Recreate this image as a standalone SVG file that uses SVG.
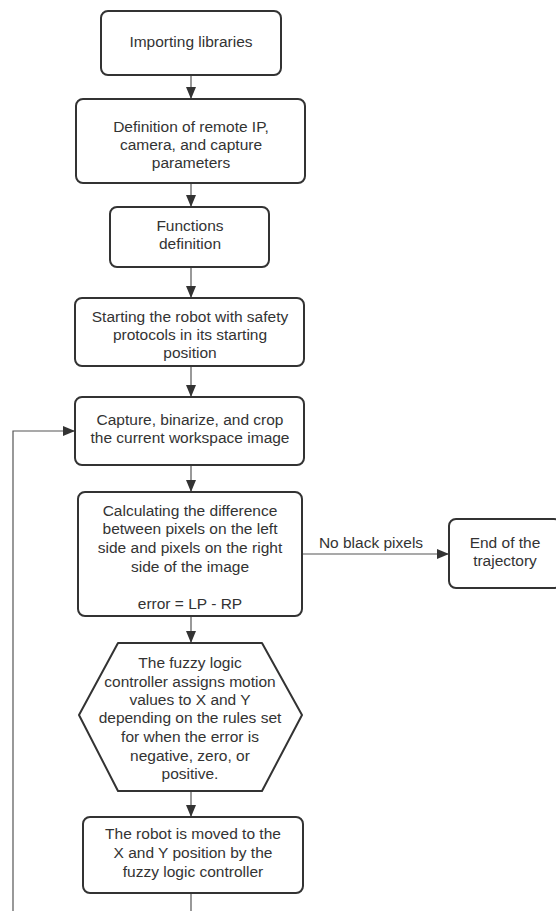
<svg xmlns="http://www.w3.org/2000/svg" width="556" height="911" viewBox="0 0 556 911">
<defs>
<marker id="arr" markerUnits="userSpaceOnUse" markerWidth="12" markerHeight="10" refX="12" refY="5" orient="auto">
<path d="M0,0 L12,5 L0,10 z" fill="#333"/>
</marker>
<style>
.n{fill:#fff;stroke:#333;stroke-width:2;stroke-linejoin:round}
.t{font-family:"Liberation Sans",Arial,sans-serif;font-size:15.5px;fill:#333;text-anchor:middle}
.c{fill:none;stroke:#555;stroke-width:1.2}
</style>
</defs>
<rect width="556" height="911" fill="#fff"/>
<g id="connectors">
<path class="c" d="M191,75 V99" marker-end="url(#arr)"/>
<path class="c" d="M191,183 V207" marker-end="url(#arr)"/>
<path class="c" d="M191,267 V298" marker-end="url(#arr)"/>
<path class="c" d="M191,366 V397" marker-end="url(#arr)"/>
<path class="c" d="M191,465 V492" marker-end="url(#arr)"/>
<path class="c" d="M302,554 H449" marker-end="url(#arr)"/>
<path class="c" d="M191,616 V643" marker-end="url(#arr)"/>
<path class="c" d="M191,791 V817" marker-end="url(#arr)"/>
<path class="c" d="M191,893 V916 H13 V431 H75" marker-end="url(#arr)"/>
<text class="t" x="371" y="548">No black pixels</text>
</g>
<g id="n1">
<rect class="n" x="101" y="11" width="180" height="64" rx="7"/>
<text class="t" x="191" y="47">Importing libraries</text>
</g>
<g id="n2">
<rect class="n" x="76" y="99" width="229" height="84" rx="7"/>
<text class="t" x="191" y="132">Definition of remote IP,</text>
<text class="t" x="191" y="150">camera, and capture</text>
<text class="t" x="191" y="168">parameters</text>
</g>
<g id="n3">
<rect class="n" x="110" y="207" width="159" height="60" rx="7"/>
<text class="t" x="190" y="231">Functions</text>
<text class="t" x="190" y="249">definition</text>
</g>
<g id="n4">
<rect class="n" x="75" y="298" width="229" height="68" rx="7"/>
<text class="t" x="190" y="322">Starting the robot with safety</text>
<text class="t" x="190" y="340">protocols in its starting</text>
<text class="t" x="190" y="358">position</text>
</g>
<g id="n5">
<rect class="n" x="75" y="397" width="229" height="68" rx="7"/>
<text class="t" x="190" y="425">Capture, binarize, and crop</text>
<text class="t" x="190" y="443">the current workspace image</text>
</g>
<g id="n6">
<rect class="n" x="78" y="492" width="224" height="124" rx="7"/>
<text class="t" x="190" y="516">Calculating the difference</text>
<text class="t" x="190" y="534">between pixels on the left</text>
<text class="t" x="190" y="553">side and pixels on the right</text>
<text class="t" x="190" y="572">side of the image</text>
<text class="t" x="190" y="609">error = LP - RP</text>
</g>
<g id="n7">
<rect class="n" x="449" y="519" width="112" height="69" rx="7"/>
<text class="t" x="505" y="548">End of the</text>
<text class="t" x="505" y="566">trajectory</text>
</g>
<g id="n8">
<polygon class="n" points="79,715 118,643 262,643 302,715 262,791 118,791"/>
<text class="t" x="190" y="668">The fuzzy logic</text>
<text class="t" x="190" y="687">controller assigns motion</text>
<text class="t" x="190" y="705">values to X and Y</text>
<text class="t" x="190" y="723">depending on the rules set</text>
<text class="t" x="190" y="742">for when the error is</text>
<text class="t" x="190" y="761">negative, zero, or</text>
<text class="t" x="190" y="779">positive.</text>
</g>
<g id="n9">
<rect class="n" x="83" y="817" width="220" height="76" rx="7"/>
<text class="t" x="193" y="839">The robot is moved to the</text>
<text class="t" x="193" y="858">X and Y position by the</text>
<text class="t" x="193" y="877">fuzzy logic controller</text>
</g>
</svg>
